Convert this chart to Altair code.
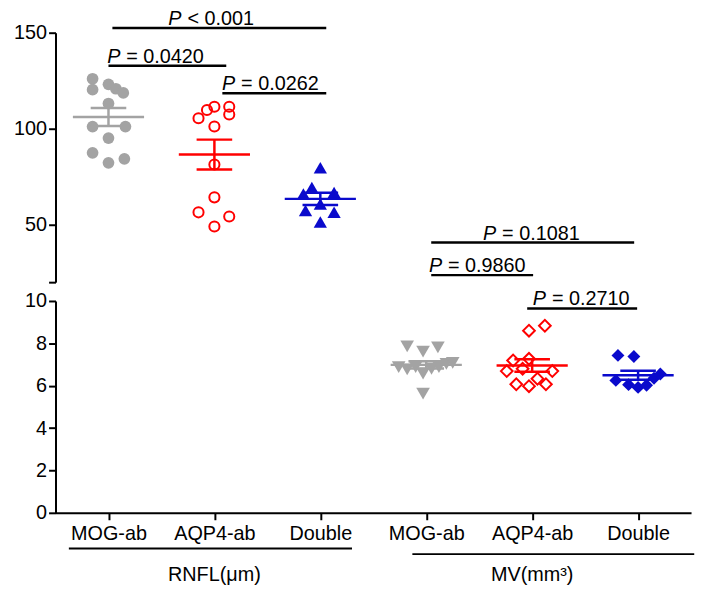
import altair as alt
import pandas as pd

# ---------------- data ----------------
GROUP_LABELS = ["MOG-ab", "AQP4-ab", "Double", "MOG-ab", "AQP4-ab", "Double"]
KEYS = ["MOG", "AQP4", "Double"]

# RNFL (µm)
rnfl_mog = [126.0, 120.3, 123.1, 120.8, 118.6, 113.1, 101.1, 101.1, 95.1, 87.4, 82.2, 84.3]
rnfl_mog_jit = [-0.15, -0.15, 0.0, 0.07, 0.14, 0.0, -0.15, 0.16, 0.0, -0.15, 0.0, 0.15]
rnfl_aqp4 = [105.4, 109.7, 111.4, 111.4, 107.4, 101.1, 81.3, 64.2, 56.4, 54.2, 49.0]
rnfl_aqp4_jit = [-0.15, -0.07, 0.0, 0.14, 0.14, 0.0, 0.0, 0.0, -0.15, 0.14, 0.0]
rnfl_double = [79.6, 69.3, 66.7, 65.9, 60.7, 57.3, 56.4, 51.3]
rnfl_double_jit = [0.0, -0.08, 0.13, -0.16, 0.0, -0.14, 0.13, 0.0]

# MV (mm^3)
mv_mog = [7.86, 7.61, 7.81, 6.88, 6.77, 6.88, 6.57, 6.80, 6.88, 7.03, 7.08, 5.63]
mv_mog_jit = [-0.18, -0.03, 0.11, -0.26, -0.18, -0.10, -0.03, 0.05, 0.12, 0.19, 0.25, -0.03]
mv_aqp4 = [8.60, 8.83, 7.19, 7.27, 6.69, 6.80, 6.69, 6.07, 5.98, 6.33, 6.07]
mv_aqp4_jit = [-0.03, 0.12, -0.18, -0.03, -0.24, -0.09, 0.19, -0.15, -0.03, 0.05, 0.13]
mv_double = [7.43, 7.38, 6.25, 6.05, 5.92, 6.02, 6.35, 6.55]
mv_double_jit = [-0.19, -0.04, -0.21, -0.09, 0.0, 0.08, 0.15, 0.21]

# significance brackets (category positions, value level, text)
top_br_x1 = [1.037, 1.0, 2.075]
top_br_x2 = [3.056, 2.112, 3.056]
top_br_y = [152.4, 132.8, 118.4]
top_br_txt = ["< 0.001", "= 0.0420", "= 0.0262"]
top_br_tx = [1.69, 1.112, 2.196]

bot_br_x1 = [4.047, 4.047, 4.953]
bot_br_x2 = [5.963, 5.009, 5.991]
bot_br_y = [12.76, 11.22, 9.65]
bot_br_txt = ["= 0.1081", "= 0.9860", "= 0.2710"]
bot_br_tx = [4.66, 4.15, 5.13]

# group titles under the x axis
grp_title = ["RNFL(μm)", "MV(mm³)"]
grp_x1 = [0.626, 3.869]
grp_x2 = [3.299, 6.53]
grp_line_y = [-1.685, -1.95]
grp_tx = [2.0, 5.0]
grp_ty = [-2.95, -2.95]

GRAY = "#A3A3A3"
RED = "#FF0000"
BLUE = "#0A0ACC"
FONT = "Liberation Sans"
FS = 20

color = alt.Color("key:N", scale=alt.Scale(domain=KEYS, range=[GRAY, RED, BLUE]), legend=None)


def series(pos, vals, jit, key):
    return pd.DataFrame({"pos": pos, "value": vals, "jit": jit, "key": key})


top_df = pd.concat([
    series(1, rnfl_mog, rnfl_mog_jit, "MOG"),
    series(2, rnfl_aqp4, rnfl_aqp4_jit, "AQP4"),
    series(3, rnfl_double, rnfl_double_jit, "Double"),
], ignore_index=True)
bot_df = pd.concat([
    series(4, mv_mog, mv_mog_jit, "MOG"),
    series(5, mv_aqp4, mv_aqp4_jit, "AQP4"),
    series(6, mv_double, mv_double_jit, "Double"),
], ignore_index=True)

XS = alt.Scale(domain=[0.5, 6.5], nice=False, zero=False)
W = 642


def panel(df, ydomain, yaxis, xaxis, shapes):
    ys = alt.Scale(domain=ydomain, nice=False, zero=False)
    base = alt.Chart(df).transform_calculate(xp="datum.pos + datum.jit")
    layers = []
    for key, (shape, filled, size) in zip(KEYS, shapes):
        m = base.transform_filter(alt.datum.key == key).mark_point(
            shape=shape, filled=filled, size=size, strokeWidth=2, opacity=1
        ).encode(
            x=alt.X("xp:Q", scale=XS, axis=xaxis),
            y=alt.Y("value:Q", scale=ys, axis=yaxis),
            color=color,
        )
        layers.append(m)
    agg = alt.Chart(df).transform_aggregate(
        mean="mean(value)", se="stderr(value)", groupby=["pos", "key"]
    ).transform_calculate(
        lo="datum.mean - datum.se", hi="datum.mean + datum.se",
        xl="datum.pos - 0.336", xr="datum.pos + 0.336",
        cl="datum.pos - 0.168", cr="datum.pos + 0.168",
    )
    layers.append(agg.mark_rule(strokeWidth=2.5).encode(
        x=alt.X("xl:Q", scale=XS), x2="xr:Q", y=alt.Y("mean:Q", scale=ys), color=color))
    layers.append(agg.mark_rule(strokeWidth=2.5).encode(
        x=alt.X("pos:Q", scale=XS), y=alt.Y("lo:Q", scale=ys), y2="hi:Q", color=color))
    layers.append(agg.mark_rule(strokeWidth=2.5).encode(
        x=alt.X("cl:Q", scale=XS), x2="cr:Q", y=alt.Y("lo:Q", scale=ys), color=color))
    layers.append(agg.mark_rule(strokeWidth=2.5).encode(
        x=alt.X("cl:Q", scale=XS), x2="cr:Q", y=alt.Y("hi:Q", scale=ys), color=color))
    return layers, ys


def brackets(x1, x2, y, txt, tx, ys):
    d = pd.DataFrame({"x1": x1, "x2": x2, "y": y, "txt": txt, "tx": tx})
    c = alt.Chart(d)
    line = c.mark_rule(color="black", strokeWidth=2.5).encode(
        x=alt.X("x1:Q", scale=XS), x2="x2:Q", y=alt.Y("y:Q", scale=ys))
    p = c.mark_text(text="P", fontStyle="italic", font=FONT, fontSize=FS, align="right",
                    baseline="alphabetic", dy=-3, color="black").encode(
        x=alt.X("tx:Q", scale=XS), y=alt.Y("y:Q", scale=ys))
    rest = c.mark_text(font=FONT, fontSize=FS, align="left", baseline="alphabetic",
                       dy=-3, dx=6, color="black").encode(
        x=alt.X("tx:Q", scale=XS), y=alt.Y("y:Q", scale=ys), text="txt:N")
    return [line, p, rest]


top_yaxis = alt.Axis(values=[20, 50, 100, 150], title=None,
                     labelExpr="datum.value == 20 ? '' : datum.label")
top_layers, top_ys = panel(
    top_df, [20, 150], top_yaxis, None,
    [("circle", True, 140), ("circle", False, 105), ("triangle-up", True, 180)])
top_layers += brackets(top_br_x1, top_br_x2, top_br_y, top_br_txt, top_br_tx, top_ys)
top = alt.layer(*top_layers).properties(width=W, height=252)

bot_yaxis = alt.Axis(values=[0, 2, 4, 6, 8, 10], title=None)
bot_xaxis = alt.Axis(values=[1, 2, 3, 4, 5, 6], title=None, labelPadding=4,
                     labelExpr="%s[datum.value - 1]" % str(GROUP_LABELS))
bot_layers, bot_ys = panel(
    bot_df, [0, 10], bot_yaxis, bot_xaxis,
    [("triangle-down", True, 190), ("diamond", False, 140), ("diamond", True, 170)])
bot_layers += brackets(bot_br_x1, bot_br_x2, bot_br_y, bot_br_txt, bot_br_tx, bot_ys)

gdf = pd.DataFrame({"t": grp_title, "x1": grp_x1, "x2": grp_x2, "ly": grp_line_y,
                    "tx": grp_tx, "ty": grp_ty})
gc = alt.Chart(gdf)
bot_layers.append(gc.mark_rule(color="black", strokeWidth=2).encode(
    x=alt.X("x1:Q", scale=XS), x2="x2:Q", y=alt.Y("ly:Q", scale=bot_ys)))
bot_layers.append(gc.mark_text(font=FONT, fontSize=FS, baseline="middle", color="black").encode(
    x=alt.X("tx:Q", scale=XS), y=alt.Y("ty:Q", scale=bot_ys), text="t:N"))
bottom = alt.layer(*bot_layers).properties(width=W, height=214)

chart = alt.vconcat(top, bottom, spacing=19, bounds="flush").properties(
    padding={"left": 5, "top": -2, "right": 0, "bottom": 0}
).configure_view(stroke=None).configure_axis(
    domainWidth=2, domainColor="black", tickWidth=2, tickColor="black", tickSize=7,
    labelColor="black", labelFont=FONT, labelFontSize=FS, grid=False,
)

chart.save("out.html", embed_options={"renderer": "svg", "actions": False})
